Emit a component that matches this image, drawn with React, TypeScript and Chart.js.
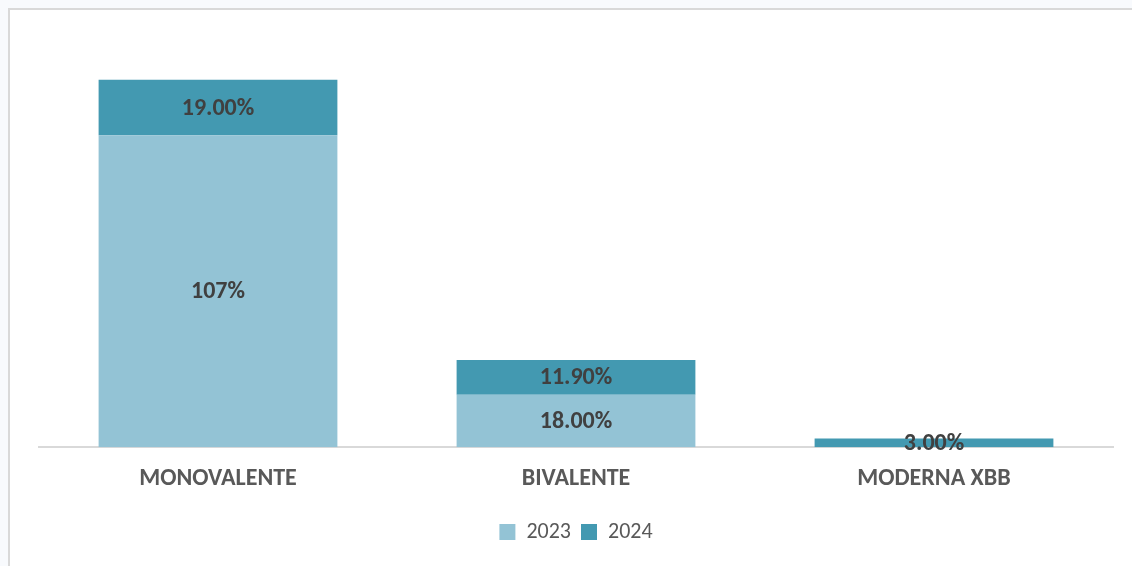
import React, { useEffect, useRef } from "react";
import { Chart, registerables } from "chart.js";

Chart.register(...registerables);

const categories = ["MONOVALENTE", "BIVALENTE", "MODERNA XBB"];
const seriesNames = ["2023", "2024"];
const values2023 = [107, 18, 0];
const values2024 = [19, 11.9, 3];
const labels2023: (string | null)[] = ["107%", "18.00%", null];
const labels2024: (string | null)[] = ["19.00%", "11.90%", "3.00%"];
const colors = ["#93c3d5", "#4399b1"];

const FONT = "Carlito, Lato, sans-serif";

const barLabels = {
  id: "barLabels",
  afterDatasetsDraw(chart: any) {
    const ctx = chart.ctx;
    const all = [labels2023, labels2024];
    ctx.save();
    ctx.font = `bold 24px ${FONT}`;
    ctx.fillStyle = "#404040";
    ctx.textAlign = "center";
    ctx.textBaseline = "middle";
    chart.data.datasets.forEach((_: any, di: number) => {
      const meta = chart.getDatasetMeta(di);
      meta.data.forEach((el: any, i: number) => {
        const txt = all[di][i];
        if (!txt) return;
        const p = el.getProps(["x", "y", "base"], true);
        ctx.fillText(txt, p.x, (p.y + p.base) / 2 + 1);
      });
    });
    ctx.restore();
  },
};

export default function App() {
  const ref = useRef<HTMLCanvasElement>(null);
  useEffect(() => {
    if (!ref.current) return;
    const chart = new Chart(ref.current, {
      type: "bar",
      data: {
        labels: categories,
        datasets: [
          { label: seriesNames[0], data: values2023, backgroundColor: colors[0] },
          { label: seriesNames[1], data: values2024, backgroundColor: colors[1] },
        ],
      },
      options: {
        animation: false,
        responsive: false,
        maintainAspectRatio: false,
        layout: { padding: { top: 29, left: 29, right: 19, bottom: 13 } },
        datasets: { bar: { categoryPercentage: 1, barPercentage: 0.667 } },
        scales: {
          x: {
            stacked: true,
            grid: { display: false, drawTicks: false },
            border: { display: true, color: "#d9d9d9", width: 2 },
            ticks: {
              padding: 17,
              color: "#595959",
              font: { family: FONT, size: 24, weight: "bold" },
            },
            afterFit: (scale: any) => {
              scale.height += 1;
            },
          },
          y: { stacked: true, display: false, min: 0, max: 140 },
        },
        plugins: {
          legend: {
            position: "bottom",
            labels: {
              boxWidth: 16,
              boxHeight: 16,
              padding: 10,
              color: "#595959",
              font: { family: FONT, size: 22 },
            },
          },
          tooltip: { enabled: false },
        },
      },
      plugins: [barLabels],
    });
    return () => chart.destroy();
  }, []);

  return (
    <div style={{ position: "fixed", inset: 0, background: "#f8fafd", overflow: "hidden" }}>
      <div
        style={{
          position: "absolute",
          left: 8,
          top: 8,
          width: 1140,
          height: 580,
          border: "2px solid #d9d9d9",
          background: "#ffffff",
        }}
      >
        <canvas ref={ref} width={1122} height={556} style={{ display: "block", width: 1122, height: 556 }} />
      </div>
    </div>
  );
}
